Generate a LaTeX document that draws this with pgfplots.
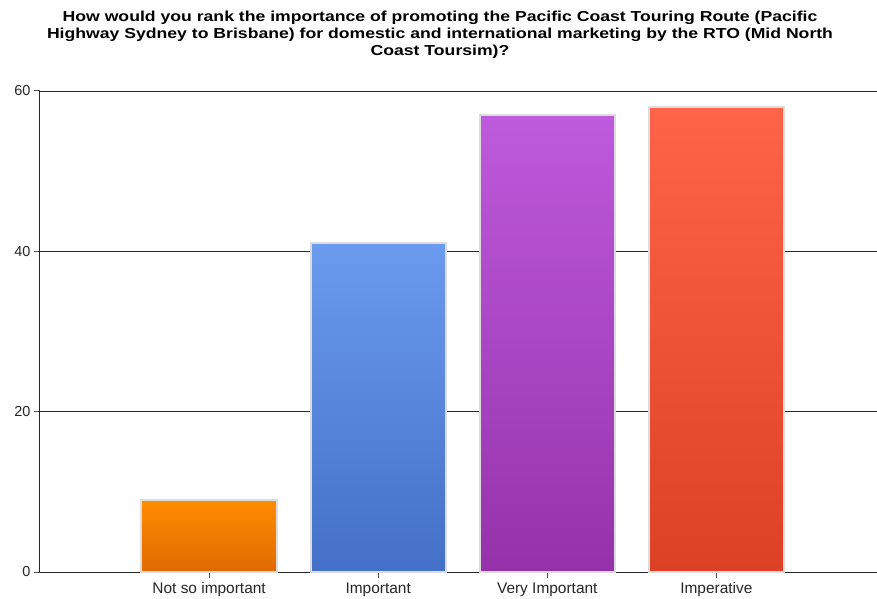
\documentclass[border=0pt]{standalone}
\usepackage{fontspec}
\setmainfont{Liberation Sans}
\newfontfamily\titlefont[FakeStretch=1.22]{Liberation Sans}
\usepackage{pgfplots}
\pgfplotsset{compat=1.18}
\definecolor{orT}{HTML}{FF8C00}
\definecolor{orB}{HTML}{E06A00}
\definecolor{blT}{HTML}{6A9BEE}
\definecolor{blB}{HTML}{4470C8}
\definecolor{puT}{HTML}{BE5ADC}
\definecolor{puB}{HTML}{9532AA}
\definecolor{reT}{HTML}{FF6448}
\definecolor{reB}{HTML}{DC4125}
\definecolor{brd}{HTML}{DDDDDD}
\begin{document}
\begin{tikzpicture}
\useasboundingbox (0bp,0bp) rectangle (877bp,599bp);
\begin{axis}[
  at={(40bp,27bp)}, anchor=south west,
  scale only axis, width=837bp, height=481bp,
  xmin=-1, xmax=3.95, ymin=0, ymax=60,
  xtick={0,1,2,3},
  xticklabels={Not so important,Important,Very Important,Imperative},
  ytick={0,20,40,60},
  axis x line*=bottom, axis y line*=left,
  axis line style={black!85, line width=1bp, -},
  ymajorgrids, grid style={black!85, line width=0.9bp},
  tick style={black!70, line width=1bp},
  tick align=outside, major tick length=6bp,
  /pgf/number format/assume math mode=true,
  x tick label style={font=\fontsize{15.5}{17}\selectfont, text=black!85, yshift=-1bp},
  y tick label style={font=\fontsize{14.5}{17}\selectfont, text=black!85},
  bar width=0.8,
  clip=false,
]
\addplot[ybar, bar shift=0pt, draw=brd, line width=2bp, top color=orT, bottom color=orB] coordinates {(0,9)};
\addplot[ybar, bar shift=0pt, draw=brd, line width=2bp, top color=blT, bottom color=blB] coordinates {(1,41)};
\addplot[ybar, bar shift=0pt, draw=brd, line width=2bp, top color=puT, bottom color=puB] coordinates {(2,57)};
\addplot[ybar, bar shift=0pt, draw=brd, line width=2bp, top color=reT, bottom color=reB] coordinates {(3,58)};
\end{axis}
\node[font=\titlefont\bfseries\fontsize{14.5}{17}\selectfont, align=center, text=black] at (440bp,564bp)
{How would you rank the importance of promoting the Pacific Coast Touring Route (Pacific\\
Highway Sydney to Brisbane) for domestic and international marketing by the RTO (Mid North\\
Coast Toursim)?};
\end{tikzpicture}
\end{document}
